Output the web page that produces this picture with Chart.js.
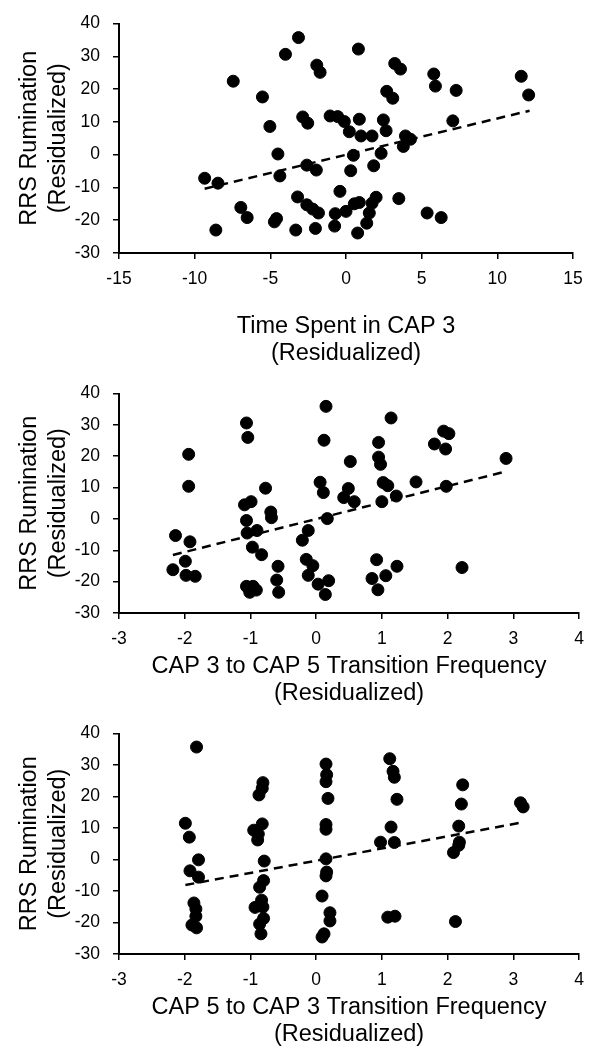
<!DOCTYPE html>
<html>
<head>
<meta charset="utf-8">
<script src="https://cdn.jsdelivr.net/npm/chart.js@4"></script>
<style>
    body { margin: 0; background: #fff; }
    .wrap { position: absolute; left: 0; width: 596px; }
</style>
</head>
<body>
<div class="wrap" style="top:0;height:370px"><canvas id="chart1"></canvas></div>
<div class="wrap" style="top:370px;height:340px"><canvas id="chart2"></canvas></div>
<div class="wrap" style="top:710px;height:339px"><canvas id="chart3"></canvas></div>
<script>
// --- data ---
const timeCap3X = [-3.14, -4.0, -1.93, -1.71, -7.45, -5.52, -2.86, -2.53, -5.03, -1.05,
    -0.55, -0.11, 0.22, -4.5, -2.59, -1.96, -4.37, -9.34, -8.46, -0.4,
    -3.2, -2.59, -2.2, -1.82, -6.95, -6.53, -4.59, -4.73, -0.71, 0,
    -0.75, -8.6, -3.32, -2.02,
    0.82, 3.22, 3.6, 5.8, 5.91, 7.28, 11.58, 12.07, 2.69, 3.09,
    0.88, 0.99, 1.72, 2.47, 2.65, 3.93, 4.26, 3.79, 7.06, 0.49,
    2.32, 1.83, 0.31, 3.49, 1.99, 1.72, 0.88, 0.55, 1.54, 1.37,
    0.77, 5.36, 6.29];
const timeCap3Y = [35.7, 30.6, 27.3, 25.1, 22.4, 17.6, 11.5, 9.6, 8.6, 11.8,
    11.6, 10.1, 7.0, 0.2, -3.2, -4.7, -6.5, -7.2, -8.7, -11.2,
    -12.9, -15.3, -16.6, -17.8, -16.1, -19.2, -19.5, -20.5, -18.0, -17.3,
    -21.8, -23.0, -23.0, -22.5,
    32.2, 27.8, 26.1, 24.6, 20.9, 19.6, 23.9, 18.2, 19.3, 17.2,
    10.8, 5.7, 5.7, 10.6, 7.3, 5.7, 4.7, 2.5, 10.3, -0.2,
    0.4, -3.4, -4.9, -13.4, -13.0, -14.8, -14.6, -15.0, -17.8, -20.9,
    -23.9, -17.8, -19.2];
const timeCap3Fit = [[-9.34, -10.4], [12.13, 13.4]];

const cap3to5X = [-1.94, -1.94, -2.14, -1.92, -1.99, -2.18, -1.98, -1.84,
    -1.06, -1.04, -1.09, -0.99, -1.06, -1.05, -0.9, -0.97, -0.83, -0.77, -0.69, -0.68,
    -0.58, -0.6, -0.57, -1.06, -0.96, -0.91, -1.01,
    0.15, 0.12, 0.52, 0.06, 0.11, 0.49, 0.42, 0.17, -0.12, -0.21, -0.15, -0.05, -0.12,
    0.03, 0.19, 0.14,
    1.14, 1.94, 2.02, 1.8, 1.97, 0.95, 0.95, 0.98, 2.89, 0.58, 1.02, 1.09, 1.22, 1.0,
    1.52, 1.98, 0.92, 1.23, 1.06, 0.85, 0.94, 2.22];
const cap3to5Y = [20.6, 10.4, -5.3, -7.3, -13.5, -16.2, -18.0, -18.3,
    30.6, 26.0, 4.5, 5.5, -0.5, -4.5, -3.7, -9.0, -11.4, 9.8, 2.2, 0.4,
    -15.1, -19.5, -23.4, -21.5, -21.5, -22.7, -23.4,
    35.9, 25.1, 18.3, 11.7, 8.4, 9.7, 6.8, 0.1, -3.7, -6.8, -12.9, -14.9, -18.0,
    -20.8, -19.7, -24.1,
    32.2, 28.0, 27.2, 23.9, 22.3, 24.4, 19.7, 17.4, 19.3, 5.5, 11.6, 10.6, 7.3, 5.5,
    11.8, 10.4, -13.0, -15.1, -18.1, -19.0, -22.6, -15.5];
const cap3to5Fit = [[-2.18, -11.5], [2.9, 15.2]];

const cap5to3X = [-1.82, -1.99, -1.93, -1.79, -1.92, -1.79, -1.86, -1.83, -1.83, -1.89, -1.82,
    -0.81, -0.82, -0.87, -0.82, -0.95, -0.88, -0.89, -0.79, -0.8, -0.86, -0.83, -0.93,
    -0.81, -0.8, -0.86, -0.84,
    0.15, 0.16, 0.15, 0.18, 0.15, 0.15, 0.15, 0.16, 0.15, 0.09, 0.21, 0.21, 0.12, 0.09,
    1.12, 1.17, 1.19, 1.23, 1.14, 0.98, 1.19, 1.09, 1.2,
    2.23, 2.21, 2.17, 2.18, 2.17, 2.09, 2.12, 3.11, 3.15];
const cap5to3Y = [35.7, 11.5, 7.1, -0.1, -3.6, -5.6, -13.8, -15.7, -18.0, -20.8, -21.7,
    24.4, 22.6, 20.5, 11.3, 9.3, 8.1, 6.2, -0.5, -6.7, -8.8, -12.9, -15.2,
    -15.1, -18.7, -20.5, -23.6,
    30.3, 26.9, 24.7, 19.4, 11.1, 9.6, 0.2, -4.0, -5.2, -11.6, -16.9, -19.5, -23.6, -24.6,
    32.0, 28.0, 26.1, 19.1, 10.3, 5.5, 5.4, -18.3, -18.0,
    23.7, 17.6, 10.6, 5.5, 4.5, 2.2, -19.7, 18.0, 16.7];
const cap5to3Fit = [[-1.99, -8.1], [3.17, 11.9]];

const yTicks = [-30, -20, -10, 0, 10, 20, 30, 40];
const yTitle = ['RRS Rumination', '(Residualized)'];

// --- shared styling ---
const FONT = "'Liberation Sans', Arial, Helvetica, sans-serif";
Chart.defaults.font.family = FONT;
Chart.defaults.color = '#000';

function pts(xs, ys) {
    return xs.map((x, i) => ({ x: x, y: ys[i] }));
}

function makeChart(id, xs, ys, fit, xMin, xMax, xStep, xTitle, opts) {
    const ctx = document.getElementById(id).getContext('2d');
    return new Chart(ctx, {
        type: 'scatter',
        data: {
            datasets: [{
                data: pts(xs, ys),
                backgroundColor: '#000',
                borderColor: '#000',
                pointRadius: 6,
                pointHoverRadius: 6
            }, {
                type: 'line',
                data: fit.map(p => ({ x: p[0], y: p[1] })),
                borderColor: '#000',
                borderWidth: 2.5,
                borderDash: [9, 6],
                pointRadius: 0,
                fill: false
            }]
        },
        options: {
            responsive: true,
            maintainAspectRatio: false,
            animation: false,
            layout: { padding: { top: opts.top, right: opts.right, left: 0, bottom: 0 } },
            plugins: { legend: { display: false }, tooltip: { enabled: false } },
            scales: {
                x: {
                    type: 'linear',
                    min: xMin, max: xMax,
                    ticks: { stepSize: xStep, font: { size: 17.5 }, padding: 10, maxRotation: 0 },
                    grid: { drawOnChartArea: false, tickLength: 6, color: '#000', lineWidth: 1.5 },
                    border: { color: '#000', width: 2 },
                    title: {
                        display: true,
                        text: xTitle,
                        font: { size: 23.5, lineHeight: 27 / 23.5 },
                        padding: { top: 0, bottom: opts.titleBottom }
                    },
                    afterFit: (s) => { s.height = opts.xHeight; }
                },
                y: {
                    min: -30, max: 40,
                    afterBuildTicks: (s) => { s.ticks = yTicks.map(v => ({ value: v })); },
                    ticks: { font: { size: 17.5 }, padding: 13 },
                    grid: { drawOnChartArea: false, tickLength: 6, color: '#000', lineWidth: 1.5 },
                    border: { color: '#000', width: 2 },
                    title: {
                        display: true,
                        text: yTitle,
                        font: { size: 23.5, lineHeight: 29 / 23.5 },
                        padding: { top: 15, bottom: 0 }
                    },
                    afterFit: (s) => { s.width = 119; }
                }
            }
        }
    });
}

makeChart('chart1', timeCap3X, timeCap3Y, timeCap3Fit, -15, 15, 5,
    ['Time Spent in CAP 3', '(Residualized)'],
    { top: 23, right: 23, xHeight: 117, titleBottom: 2.5 });
makeChart('chart2', cap3to5X, cap3to5Y, cap3to5Fit, -3, 4, 1,
    ['CAP 3 to CAP 5 Transition Frequency', '(Residualized)'],
    { top: 14, right: 17, xHeight: 97, titleBottom: 2.5 });
makeChart('chart3', cap5to3X, cap5to3Y, cap5to3Fit, -3, 4, 1,
    ['CAP 5 to CAP 3 Transition Frequency', '(Residualized)'],
    { top: 16, right: 17, xHeight: 95, titleBottom: 0.5 });
</script>
</body>
</html>
